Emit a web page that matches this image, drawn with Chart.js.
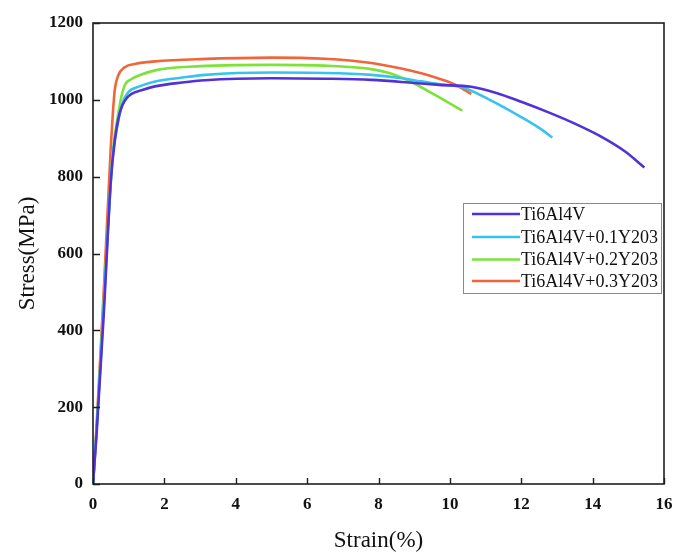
<!DOCTYPE html>
<html>
<head>
<meta charset="utf-8">
<script src="https://cdn.jsdelivr.net/npm/chart.js@4/dist/chart.umd.min.js"></script>
<style>
  html,body{margin:0;padding:0;background:#fff;}
  #wrap{width:673px;height:552px;position:relative;}
</style>
</head>
<body>
<div id="wrap"><canvas id="c" width="673" height="552"></canvas></div>
<script>
// ---- data ----
const seriesNames = ['Ti6Al4V', 'Ti6Al4V+0.1Y203', 'Ti6Al4V+0.2Y203', 'Ti6Al4V+0.3Y203'];
const seriesColors = ['#5231d6', '#36c4ee', '#7de23a', '#f0663a'];

const strainTi = [0, 0.1, 0.3, 0.5, 0.62, 0.72, 0.82, 0.95, 1.07, 1.4, 1.74, 2.5, 3.15, 5, 6.5, 7.8, 9, 9.7, 10.6, 11.3, 12, 12.8, 13.5, 14.2, 14.9, 15.45];
const stressTi = [0, 130, 440, 790, 900, 955, 985, 1005, 1015, 1026, 1035, 1045, 1051, 1056, 1055, 1052, 1044, 1039, 1034, 1018, 995, 966, 938, 906, 866, 824];

const strainY1 = [0, 0.1, 0.3, 0.55, 0.7, 0.82, 0.99, 1.3, 1.74, 2.5, 3.15, 5, 6.5, 7.8, 8.6, 9.2, 9.8, 10.4, 11.2, 12, 12.5, 12.87];
const stressY1 = [0, 140, 460, 850, 940, 990, 1020, 1035, 1048, 1058, 1065, 1071, 1070, 1065, 1057, 1048, 1040, 1031, 996, 955, 927, 902];

const strainY2 = [0, 0.1, 0.3, 0.55, 0.7, 0.8, 0.9, 1.1, 1.3, 1.8, 2.68, 5, 6.5, 7.8, 8.3, 8.7, 9.1, 9.5, 9.9, 10.35];
const stressY2 = [0, 140, 470, 860, 960, 1010, 1040, 1055, 1064, 1078, 1086, 1091, 1089, 1080, 1070, 1056, 1038, 1017, 996, 972];

const strainY3 = [0, 0.1, 0.3, 0.5, 0.56, 0.61, 0.7, 0.89, 1.2, 1.74, 3, 5, 6.5, 7.8, 8.5, 9.2, 9.7, 10.06, 10.3, 10.6];
const stressY3 = [0, 150, 500, 880, 970, 1026, 1062, 1085, 1094, 1100, 1106, 1110, 1107, 1096, 1084, 1069, 1055, 1043, 1032, 1015];

const xTicks = [0, 2, 4, 6, 8, 10, 12, 14, 16];
const yTicks = [0, 200, 400, 600, 800, 1000, 1200];
const xTitle = 'Strain(%)';
const yTitle = 'Stress(MPa)';

// ---- build datasets ----
const strains = [strainTi, strainY1, strainY2, strainY3];
const stresses = [stressTi, stressY1, stressY2, stressY3];
const datasets = seriesNames.map((name, i) => ({
  label: name,
  data: strains[i].map((s, k) => ({x: s, y: stresses[i][k]})),
  borderColor: seriesColors[i],
  backgroundColor: seriesColors[i],
  borderWidth: 2.6,
  pointRadius: 0,
  showLine: true,
  fill: false,
  cubicInterpolationMode: 'monotone'
}));

const framePlugin = {
  id: 'frame',
  afterDraw(chart) {
    const ctx = chart.ctx;
    const {left, right, top, bottom} = chart.chartArea;
    const xs = chart.scales.x, ys = chart.scales.y;
    ctx.save();
    ctx.strokeStyle = '#1e1e1e';
    ctx.lineWidth = 1.6;
    ctx.strokeRect(left, top, right - left, bottom - top);
    ctx.lineWidth = 1.4;
    ctx.beginPath();
    xTicks.forEach(v => {
      const px = Math.round(xs.getPixelForValue(v)) + 0.5;
      ctx.moveTo(px, bottom); ctx.lineTo(px, bottom - 6);
    });
    yTicks.forEach(v => {
      const py = Math.round(ys.getPixelForValue(v)) + 0.5;
      ctx.moveTo(left, py); ctx.lineTo(left + 7, py);
    });
    ctx.stroke();

    // legend
    const bx = 463, by = 203, bw = 198, bh = 90;
    ctx.fillStyle = '#fff';
    ctx.fillRect(bx, by, bw, bh);
    ctx.strokeStyle = '#8a8a8a';
    ctx.lineWidth = 1;
    ctx.strokeRect(bx + 0.5, by + 0.5, bw, bh);
    const rows = [214, 237, 259.5, 281];
    ctx.font = '18px "Liberation Serif", "Times New Roman", serif';
    ctx.textBaseline = 'middle';
    ctx.textAlign = 'left';
    chart.data.datasets.forEach((d, i) => {
      ctx.strokeStyle = d.borderColor;
      ctx.lineWidth = 2.6;
      ctx.beginPath();
      ctx.moveTo(472, rows[i]); ctx.lineTo(520, rows[i]);
      ctx.stroke();
      ctx.fillStyle = '#111';
      ctx.fillText(d.label, 521, rows[i] + 1);
    });
    ctx.restore();
  }
};

new Chart(document.getElementById('c'), {
  type: 'scatter',
  data: {datasets},
  options: {
    responsive: false,
    animation: false,
    events: [],
    layout: {padding: {left: 0, top: 23, right: 9, bottom: 0}},
    plugins: {legend: {display: false}, tooltip: {enabled: false}},
    scales: {
      x: {
        type: 'linear', min: 0, max: 16,
        afterBuildTicks(scale) { scale.ticks = xTicks.map(v => ({value: v})); },
        afterFit(scale) { scale.height = 68; scale.paddingLeft = 0; scale.paddingRight = 0; },
        grid: {display: false, drawTicks: false},
        border: {display: false},
        ticks: {
          padding: 10, color: '#111', maxRotation: 0,
          callback: v => String(v),
          font: {family: '"Liberation Serif", "Times New Roman", serif', size: 17, weight: 'bold'}
        },
        title: {
          display: true, text: xTitle, color: '#111', padding: {top: 0, bottom: 0},
          font: {family: '"Liberation Serif", "Times New Roman", serif', size: 23, lineHeight: 1}
        }
      },
      y: {
        type: 'linear', min: 0, max: 1200,
        afterBuildTicks(scale) { scale.ticks = yTicks.map(v => ({value: v})); },
        afterFit(scale) { scale.width = 93; scale.paddingTop = 0; scale.paddingBottom = 0; },
        grid: {display: false, drawTicks: false},
        border: {display: false},
        ticks: {
          padding: 10, color: '#111',
          callback: v => String(v),
          font: {family: '"Liberation Serif", "Times New Roman", serif', size: 17, weight: 'bold'}
        },
        title: {
          display: true, text: yTitle, color: '#111', padding: {top: 16, bottom: 0},
          font: {family: '"Liberation Serif", "Times New Roman", serif', size: 23, lineHeight: 1}
        }
      }
    }
  },
  plugins: [framePlugin]
});
</script>
</body>
</html>
